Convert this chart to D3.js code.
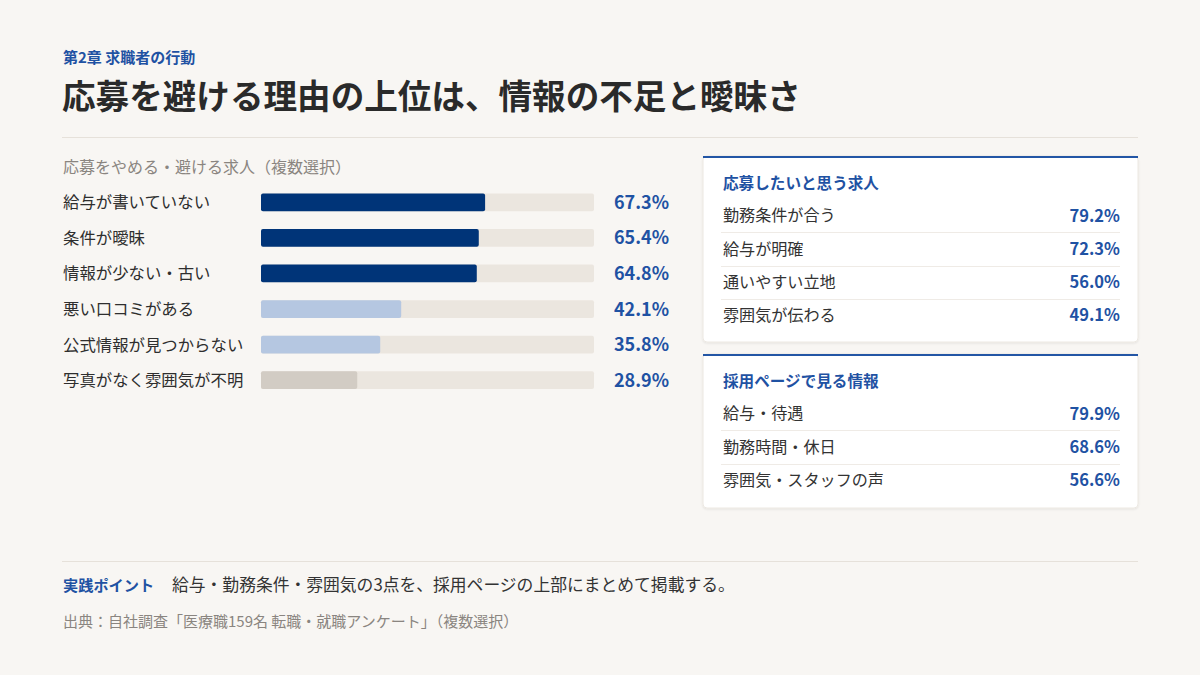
<!DOCTYPE html>
<html lang="ja">
<head>
<meta charset="utf-8">
<script src="https://cdn.jsdelivr.net/npm/d3@7"></script>
<style>
  html, body { margin: 0; padding: 0; background: #f8f6f3; }
  body { width: 1200px; height: 675px; overflow: hidden; font-family: "Noto Sans CJK JP", "Noto Sans", sans-serif; }
</style>
</head>
<body>
<svg id="chart" width="1200" height="675"></svg>
<script>
const avoidCategories = ["給与が書いていない", "条件が曖昧", "情報が少ない・古い", "悪い口コミがある", "公式情報が見つからない", "写真がなく雰囲気が不明"];
const avoidValues = [67.3, 65.4, 64.8, 42.1, 35.8, 28.9];
const avoidGroup = ["top", "top", "top", "mid", "mid", "low"];

const wantCategories = ["勤務条件が合う", "給与が明確", "通いやすい立地", "雰囲気が伝わる"];
const wantValues = [79.2, 72.3, 56.0, 49.1];

const pageCategories = ["給与・待遇", "勤務時間・休日", "雰囲気・スタッフの声"];
const pageValues = [79.9, 68.6, 56.6];

const FONT = '"Noto Sans CJK JP", "Noto Sans", sans-serif';
const BLUE = "#1f52a3";
const svg = d3.select("#chart");
svg.append("rect").attr("width", 1200).attr("height", 675).attr("fill", "#f8f6f3");

// Header
svg.append("text").attr("x", 63).attr("y", 63).attr("font-size", 15).attr("font-weight", 700)
  .attr("fill", BLUE).attr("font-family", FONT).text("第2章 求職者の行動");
svg.append("text").attr("x", 62).attr("y", 109).attr("font-size", 33.6).attr("font-weight", 700)
  .attr("fill", "#2a2a2a").attr("font-family", FONT).text("応募を避ける理由の上位は、情報の不足と曖昧さ");
svg.append("line").attr("x1", 62).attr("x2", 1138).attr("y1", 137.5).attr("y2", 137.5)
  .attr("stroke", "#e6e1da").attr("stroke-width", 1);

// Left bar chart
svg.append("text").attr("x", 63).attr("y", 173).attr("font-size", 16).attr("fill", "#8a8580")
  .attr("font-family", FONT).text("応募をやめる・避ける求人（複数選択）");

const x = d3.scaleLinear().domain([0, 100]).range([261, 594]);
const y = d3.scaleBand().domain(avoidCategories).range([184.5, 398]).paddingInner(0.5).paddingOuter(0.25);
const colorOf = { top: "#003478", mid: "#b5c7e1", low: "#d2ccc4" };

const rows = svg.append("g").selectAll("g").data(avoidCategories).join("g");
rows.append("rect").attr("x", x(0)).attr("y", d => y(d)).attr("width", x(100) - x(0))
  .attr("height", y.bandwidth()).attr("rx", 2).attr("fill", "#ebe6df");
rows.append("rect").attr("x", x(0)).attr("y", d => y(d))
  .attr("width", (d, i) => x(avoidValues[i]) - x(0)).attr("height", y.bandwidth()).attr("rx", 2)
  .attr("fill", (d, i) => colorOf[avoidGroup[i]]);
rows.append("text").attr("x", 63).attr("y", d => y(d) + y.bandwidth() / 2)
  .attr("dy", "0.36em").attr("font-size", 16.4).attr("fill", "#2e2e2e").attr("font-family", FONT)
  .text(d => d);
rows.append("text").attr("x", 669).attr("y", d => y(d) + y.bandwidth() / 2)
  .attr("dy", "0.36em").attr("text-anchor", "end").attr("font-size", 18).attr("font-weight", 700)
  .attr("fill", BLUE).attr("font-family", FONT).text((d, i) => avoidValues[i].toFixed(1) + "%");

// Cards
const defs = svg.append("defs");
const f = defs.append("filter").attr("id", "sh").attr("x", "-5%").attr("y", "-5%").attr("width", "110%").attr("height", "115%");
f.append("feDropShadow").attr("dx", 0).attr("dy", 1).attr("stdDeviation", 1.2).attr("flood-color", "#000").attr("flood-opacity", 0.08);

function card(top, height, title, cats, vals) {
  const g = svg.append("g");
  g.append("rect").attr("x", 703).attr("y", top).attr("width", 435).attr("height", height)
    .attr("rx", 4).attr("fill", "#ffffff").attr("stroke", "#ece8e2").attr("stroke-width", 1).attr("filter", "url(#sh)");
  g.append("rect").attr("x", 703).attr("y", top).attr("width", 435).attr("height", 2).attr("fill", "#2356a5");
  g.append("text").attr("x", 723).attr("y", top + 33).attr("font-size", 15.6).attr("font-weight", 700)
    .attr("fill", BLUE).attr("font-family", FONT).text(title);
  const ry = d3.scaleBand().domain(cats).range([top + 43, top + 43 + 33.3 * cats.length]);
  const r = g.selectAll("g.r").data(cats).join("g");
  r.append("text").attr("x", 723).attr("y", d => ry(d) + ry.bandwidth() / 2).attr("dy", "0.36em")
    .attr("font-size", 16.1).attr("fill", "#333").attr("font-family", FONT).text(d => d);
  r.append("text").attr("x", 1120).attr("y", d => ry(d) + ry.bandwidth() / 2).attr("dy", "0.36em")
    .attr("text-anchor", "end").attr("font-size", 16.5).attr("font-weight", 700).attr("fill", BLUE)
    .attr("font-family", FONT).text((d, i) => vals[i].toFixed(1) + "%");
  r.filter((d, i) => i < cats.length - 1).append("line")
    .attr("x1", 721).attr("x2", 1120).attr("y1", d => Math.round(ry(d) + ry.bandwidth()) + 0.5)
    .attr("y2", d => Math.round(ry(d) + ry.bandwidth()) + 0.5).attr("stroke", "#efebe6");
}
card(156, 186, "応募したいと思う求人", wantCategories, wantValues);
card(354, 154, "採用ページで見る情報", pageCategories, pageValues);

// Footer
svg.append("line").attr("x1", 62).attr("x2", 1138).attr("y1", 561.5).attr("y2", 561.5)
  .attr("stroke", "#e6e1da");
svg.append("text").attr("x", 63).attr("y", 591).attr("font-size", 15.2).attr("font-weight", 700)
  .attr("fill", BLUE).attr("font-family", FONT).text("実践ポイント");
svg.append("text").attr("x", 172).attr("y", 591).attr("font-size", 16.8).attr("fill", "#333")
  .attr("font-family", FONT).text("給与・勤務条件・雰囲気の3点を、採用ページの上部にまとめて掲載する。");
svg.append("text").attr("x", 63).attr("y", 627).attr("font-size", 15).attr("fill", "#8a8580")
  .attr("font-family", FONT).text("出典：自社調査「医療職159名 転職・就職アンケート」（複数選択）");
</script>
</body>
</html>
